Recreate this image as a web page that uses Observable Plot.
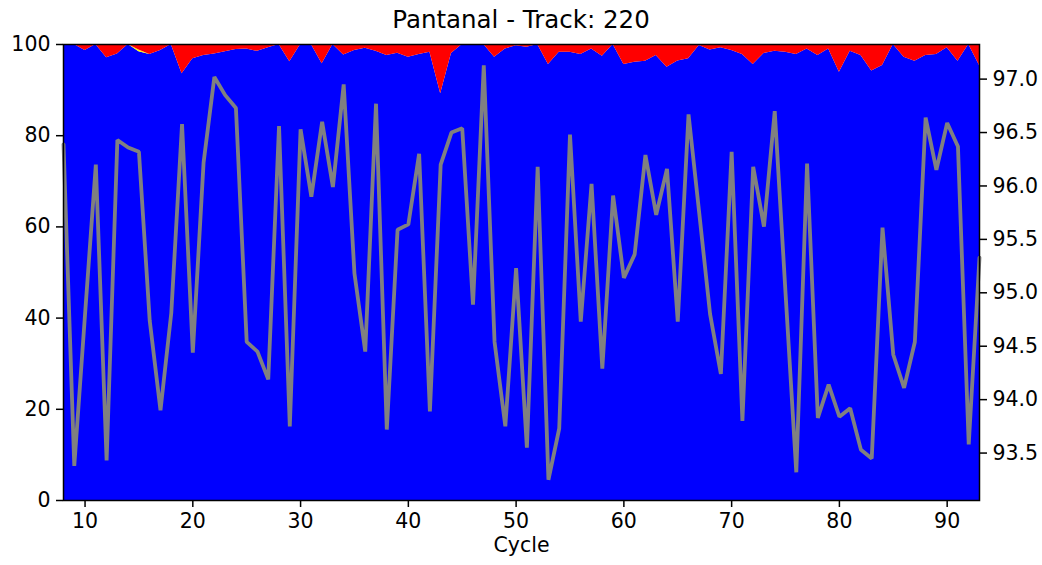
<!DOCTYPE html>
<html>
<head>
<meta charset="utf-8">
<script src="https://cdn.jsdelivr.net/npm/d3@7"></script>
<script src="https://cdn.jsdelivr.net/npm/@observablehq/plot@0.6"></script>
<style>
  html, body { margin: 0; padding: 0; background: #fff; }
  #chart { position: relative; width: 1042px; height: 565px; font-family: "DejaVu Sans", sans-serif; }
  #chart svg { position: absolute; left: 0; top: 0; }
  #title { position: absolute; left: 0; top: 4px; width: 1042px; text-align: center; font-size: 24.5px; line-height: 32px; color: #000; z-index: 2; }
</style>
</head>
<body>
<div id="chart"><div id="title">Pantanal - Track: 220</div></div>
<script>
// Cycle numbers along the x axis
const cycles = [8,9,10,11,12,13,14,15,16,17,18,19,20,21,22,23,24,25,26,27,28,29,30,31,32,33,34,35,36,37,38,39,40,41,42,43,44,45,46,47,48,49,50,51,52,53,54,55,56,57,58,59,60,61,62,63,64,65,66,67,68,69,70,71,72,73,74,75,76,77,78,79,80,81,82,83,84,85,86,87,88,89,90,91,92,93];

// Stacked percentage layers (bottom to top)
const coverBlue = [100,100,98.7,100,97.1,97.9,100,98.4,97.8,98.7,100,93.6,96.9,97.6,97.9,98.4,98.9,99.0,98.5,99.3,100,96.2,100,100,95.8,100,97.7,98.7,99.2,98.5,97.6,98.1,97.2,97.8,98.3,89.2,98.0,100,100,100,97.2,99.0,99.7,99.4,100,95.6,98.3,98.3,97.8,99.0,97.4,100,95.6,96.1,96.3,97.6,95.0,96.4,96.9,99.8,98.8,99.3,98.7,97.8,95.6,98.0,98.5,98.3,97.8,99.0,97.6,99.0,93.9,98.5,97.6,94.2,95.4,100,97.2,96.3,97.6,97.8,99.3,96.3,100,95.4];
const coverYellow = [0,0,0,0,0,0,0,0.4,0,0,0,0,0,0,0,0,0,0,0,0,0,0,0,0,0,0,0,0,0,0,0,0,0,0,0,0,0,0,0,0,0,0,0,0,0,0,0,0,0,0,0,0,0,0,0,0,0,0,0,0,0,0,0,0,0,0,0,0,0,0,0,0,0,0,0,0,0,0,0,0,0,0,0,0,0,0];
const coverRed = [0,0,1.3,0,2.9,2.1,0,1.2,2.2,1.3,0,6.4,3.1,2.4,2.1,1.6,1.1,1.0,1.5,0.7,0,3.8,0,0,4.2,0,2.3,1.3,0.8,1.5,2.4,1.9,2.8,2.2,1.7,10.8,2.0,0,0,0,2.8,1.0,0.3,0.6,0,4.4,1.7,1.7,2.2,1.0,2.6,0,4.4,3.9,3.7,2.4,5.0,3.6,3.1,0.2,1.2,0.7,1.3,2.2,4.4,2.0,1.5,1.7,2.2,1.0,2.4,1.0,6.1,1.5,2.4,5.8,4.6,0,2.8,3.7,2.4,2.2,0.7,3.7,0,4.6];

// Series plotted against the right-hand axis
const rightValues = [96.39,93.38,94.80,96.20,93.43,96.43,96.36,96.32,94.74,93.90,94.81,96.58,94.44,96.22,97.02,96.85,96.73,94.54,94.45,94.19,96.56,93.75,96.53,95.90,96.60,95.99,96.95,95.18,94.45,96.77,93.72,95.59,95.64,96.30,93.89,96.20,96.50,96.54,94.89,97.13,94.54,93.75,95.23,93.55,96.18,93.25,93.73,96.48,94.73,96.02,94.29,95.91,95.14,95.36,96.29,95.73,96.16,94.73,96.67,95.74,94.80,94.24,96.32,93.80,96.18,95.62,96.70,95.00,93.32,96.21,93.83,94.14,93.84,93.92,93.53,93.45,95.61,94.42,94.11,94.54,96.64,96.15,96.59,96.37,93.58,95.33];

// Axis ticks
const xTicks = [10,20,30,40,50,60,70,80,90];
const yTicksLeft = [0,20,40,60,80,100];
const yTicksRight = [93.5,94.0,94.5,95.0,95.5,96.0,96.5,97.0];

const layerNames = ["blue", "yellow", "red"];
const layerColors = ["#0000ff", "#ffc000", "#ff0000"];

const W = 1042, H = 565;
const margins = {marginTop: 44, marginBottom: 65, marginLeft: 63, marginRight: 63};
const fontStyle = {fontFamily: "DejaVu Sans, sans-serif", fontSize: "20.5px", background: "transparent", color: "#000", overflow: "visible"};

// Tidy rows for the stacked areas
const layers = [coverBlue, coverYellow, coverRed];
const stackRows = [];
cycles.forEach((c, i) => {
  layers.forEach((arr, k) => stackRows.push({cycle: c, layer: layerNames[k], value: arr[i]}));
});
const lineRows = cycles.map((c, i) => ({cycle: c, value: rightValues[i]}));

const base = Plot.plot({
  width: W, height: H, ...margins,
  style: fontStyle,
  x: {domain: [8, 93]},
  y: {domain: [0, 100]},
  color: {domain: layerNames, range: layerColors},
  marks: [
    Plot.areaY(stackRows, {x: "cycle", y: "value", fill: "layer", order: layerNames}),
    Plot.axisX({ticks: xTicks, tickSize: 7, tickPadding: 6, strokeWidth: 1.5, label: null}),
    Plot.axisY({ticks: yTicksLeft, tickSize: 7, tickPadding: 6, strokeWidth: 1.5, label: null}),
    Plot.text(["Cycle"], {frameAnchor: "bottom", dy: 51, fontSize: 20.5})
  ]
});

// Right axis domain with matplotlib-like 5% padding around the series
const [lo, hi] = d3.extent(rightValues);
const pad = (hi - lo) * 0.05;

const overlay = Plot.plot({
  width: W, height: H, ...margins,
  style: fontStyle,
  x: {domain: [8, 93], axis: null},
  y: {domain: [lo - pad, hi + pad]},
  marks: [
    Plot.line(lineRows, {x: "cycle", y: "value", stroke: "#808080", strokeWidth: 3.8, strokeLinejoin: "miter"}),
    Plot.axisY({anchor: "right", ticks: yTicksRight, tickFormat: d => d.toFixed(1), tickSize: 7, tickPadding: 6, strokeWidth: 1.5, label: null}),
    Plot.frame({stroke: "#000", strokeWidth: 1.5})
  ]
});

const root = document.getElementById("chart");
root.appendChild(base);
root.appendChild(overlay);
</script>
</body>
</html>
